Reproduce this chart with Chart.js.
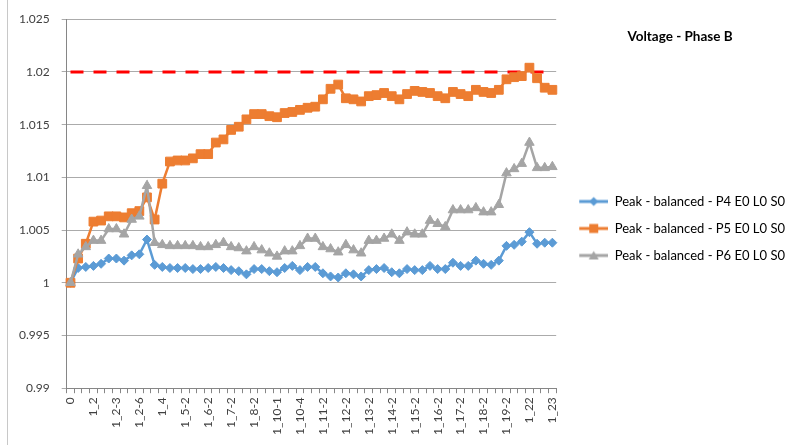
<!DOCTYPE html>
<html lang="en">
<head>
<meta charset="UTF-8">
<title>Voltage - Phase B</title>
<script src="https://cdn.jsdelivr.net/npm/chart.js"></script>
<style>
  body { margin: 0; background: #fff; }
  #wrap { position: relative; width: 795px; height: 445px; }
  #edge { position: absolute; left: 7px; top: 0; height: 445px; border-left: 1px solid #c8c8c8; }
  #title { position: absolute; left: 580px; width: 200px; top: 28px; text-align: center;
           font: bold 13.5px Lato, sans-serif; color: #000; }
</style>
</head>
<body>
<div id="wrap">
  <canvas id="myChart"></canvas>
  <div id="edge"></div>
  <div id="title">Voltage - Phase B</div>
</div>
<script>
// categories (only every third one is labelled on the axis)
const categories = [
  "0", "1_1", "1_1-2", "1_2", "1_2-1", "1_2-2", "1_2-3", "1_2-4", "1_2-5", "1_2-6",
  "1_3", "1_3-2", "1_4", "1_4-2", "1_5-1", "1_5-2", "1_5-3", "1_6-1", "1_6-2", "1_6-3",
  "1_7-1", "1_7-2", "1_7-3", "1_8-1", "1_8-2", "1_8-3", "1_9", "1_10-1", "1_10-2", "1_10-3",
  "1_10-4", "1_10-5", "1_11-1", "1_11-2", "1_11-3", "1_12-1", "1_12-2", "1_12-3", "1_13-1", "1_13-2",
  "1_13-3", "1_14-1", "1_14-2", "1_14-3", "1_15-1", "1_15-2", "1_15-3", "1_16-1", "1_16-2", "1_16-3",
  "1_17-1", "1_17-2", "1_17-3", "1_18-1", "1_18-2", "1_18-3", "1_19-1", "1_19-2", "1_20", "1_21",
  "1_22", "1_22-2", "1_22-3", "1_23"
];

const p4Values = [
  1.0000, 1.0014, 1.0015, 1.0016, 1.0018, 1.0023, 1.0023, 1.0021, 1.0026, 1.0027,
  1.0041, 1.0017, 1.0015, 1.0014, 1.0014, 1.0014, 1.0013, 1.0013, 1.0014, 1.0015,
  1.0014, 1.0012, 1.0011, 1.0008, 1.0013, 1.0013, 1.0011, 1.0010, 1.0014, 1.0016,
  1.0012, 1.0015, 1.0015, 1.0009, 1.0006, 1.0005, 1.0009, 1.0008, 1.0006, 1.0012,
  1.0013, 1.0014, 1.0010, 1.0009, 1.0013, 1.0012, 1.0012, 1.0016, 1.0013, 1.0013,
  1.0019, 1.0016, 1.0016, 1.0021, 1.0018, 1.0017, 1.0021, 1.0035, 1.0036, 1.0039,
  1.0048, 1.0037, 1.0038, 1.0038
];

const p5Values = [
  1.0000, 1.0023, 1.0037, 1.0058, 1.0059, 1.0063, 1.0063, 1.0062, 1.0066, 1.0068,
  1.0081, 1.0060, 1.0094, 1.0115, 1.0116, 1.0116, 1.0118, 1.0122, 1.0122, 1.0133,
  1.0136, 1.0145, 1.0148, 1.0155, 1.0160, 1.0160, 1.0158, 1.0157, 1.0161, 1.0162,
  1.0164, 1.0166, 1.0167, 1.0174, 1.0184, 1.0188, 1.0175, 1.0174, 1.0172, 1.0177,
  1.0178, 1.0180, 1.0177, 1.0174, 1.0179, 1.0182, 1.0181, 1.0180, 1.0177, 1.0175,
  1.0181, 1.0179, 1.0177, 1.0183, 1.0181, 1.0180, 1.0183, 1.0193, 1.0195, 1.0196,
  1.0204, 1.0194, 1.0185, 1.0183
];

const p6Values = [
  1.0000, 1.0027, 1.0034, 1.0040, 1.0040, 1.0051, 1.0051, 1.0046, 1.0060, 1.0063,
  1.0092, 1.0038, 1.0036, 1.0035, 1.0035, 1.0035, 1.0035, 1.0034, 1.0034, 1.0036,
  1.0038, 1.0034, 1.0033, 1.0030, 1.0034, 1.0031, 1.0028, 1.0025, 1.0030, 1.0030,
  1.0035, 1.0042, 1.0042, 1.0034, 1.0032, 1.0029, 1.0036, 1.0031, 1.0028, 1.0040,
  1.0040, 1.0042, 1.0046, 1.0040, 1.0048, 1.0046, 1.0046, 1.0059, 1.0056, 1.0053,
  1.0069, 1.0069, 1.0069, 1.0071, 1.0067, 1.0067, 1.0074, 1.0104, 1.0108, 1.0113,
  1.0133, 1.0109, 1.0109, 1.0110
];

const limitLevel = 1.02;
const seriesNames = [
  "Peak - balanced - P4 E0 L0 S0",
  "Peak - balanced - P5 E0 L0 S0",
  "Peak - balanced - P6 E0 L0 S0"
];
const yTicks = [0.99, 0.995, 1, 1.005, 1.01, 1.015, 1.02, 1.025];

// little line+marker picture for the legend, like Excel does it
function legendIcon(color, shape) {
  const c = document.createElement('canvas');
  c.width = 38; c.height = 12;
  const ctx = c.getContext('2d');
  ctx.strokeStyle = color; ctx.fillStyle = color; ctx.lineWidth = 3;
  ctx.beginPath(); ctx.moveTo(9, 6); ctx.lineTo(38, 6); ctx.stroke();
  ctx.beginPath();
  if (shape === 'diamond') {
    ctx.moveTo(23.5, 1.5); ctx.lineTo(28, 6); ctx.lineTo(23.5, 10.5); ctx.lineTo(19, 6);
  } else if (shape === 'square') {
    ctx.rect(19, 1.5, 9, 9);
  } else {
    ctx.moveTo(23.5, 1.5); ctx.lineTo(28.5, 10); ctx.lineTo(18.5, 10);
  }
  ctx.closePath(); ctx.fill();
  return c;
}
const icons = [legendIcon('#5B9BD5', 'diamond'), legendIcon('#ED7D31', 'square'), legendIcon('#A5A5A5', 'triangle')];

Chart.defaults.font.family = 'Lato, sans-serif';
Chart.defaults.font.size = 12;
Chart.defaults.color = '#404040';

new Chart(document.getElementById('myChart'), {
  type: 'line',
  data: {
    labels: categories,
    datasets: [
      {
        label: seriesNames[0], data: p4Values,
        borderColor: '#5B9BD5', backgroundColor: '#5B9BD5',
        borderWidth: 2.5, pointStyle: 'rectRot', pointRadius: 4.5, pointBorderWidth: 1,
        order: 3
      },
      {
        label: seriesNames[1], data: p5Values,
        borderColor: '#ED7D31', backgroundColor: '#ED7D31',
        borderWidth: 2.5, pointStyle: 'rect', pointRadius: 6.2, pointBorderWidth: 1,
        order: 2
      },
      {
        label: seriesNames[2], data: p6Values,
        borderColor: '#A5A5A5', backgroundColor: '#A5A5A5',
        borderWidth: 2.5, pointStyle: 'triangle', pointRadius: 5.5, pointBorderWidth: 1,
        order: 1
      },
      {
        label: 'limit', data: categories.map(() => limitLevel),
        borderColor: '#FF0000', borderWidth: 3, borderDash: [13, 10],
        pointRadius: 0, order: 4
      }
    ]
  },
  options: {
    responsive: true,
    maintainAspectRatio: false,
    animation: false,
    layout: { padding: { left: 7, right: 0, top: 18, bottom: 6 } },
    plugins: {
      tooltip: { enabled: false },
      legend: {
        position: 'right',
        maxWidth: 250,
        labels: {
          usePointStyle: true,
          pointStyleWidth: 38,
          padding: 14,
          font: { size: 13 },
          filter: (item) => item.datasetIndex < 3,
          sort: (a, b) => a.datasetIndex - b.datasetIndex,
          generateLabels: (chart) => chart.data.datasets.map((ds, i) => ({
            text: ds.label, datasetIndex: i, pointStyle: icons[i] || 'line',
            fillStyle: ds.borderColor, strokeStyle: ds.borderColor, lineWidth: 0, hidden: false
          }))
        }
      }
    },
    scales: {
      x: {
        offset: true,
        grid: { display: true, drawOnChartArea: false, drawTicks: true, tickLength: 5, offset: true, color: '#868686' },
        border: { color: '#868686' },
        ticks: {
          autoSkip: false, maxRotation: 90, minRotation: 90, padding: 4,
          callback: function (val, idx) { return idx % 3 === 0 ? this.getLabelForValue(val) : ''; }
        }
      },
      y: {
        min: 0.99, max: 1.025,
        afterBuildTicks: (axis) => { axis.ticks = yTicks.map(v => ({ value: v })); },
        grid: { color: '#ababab', tickLength: 5, drawTicks: true },
        border: { color: '#868686' },
        ticks: {
          padding: 12,
          callback: (v) => String(+(+v).toFixed(3))
        }
      }
    }
  }
});
</script>
</body>
</html>
